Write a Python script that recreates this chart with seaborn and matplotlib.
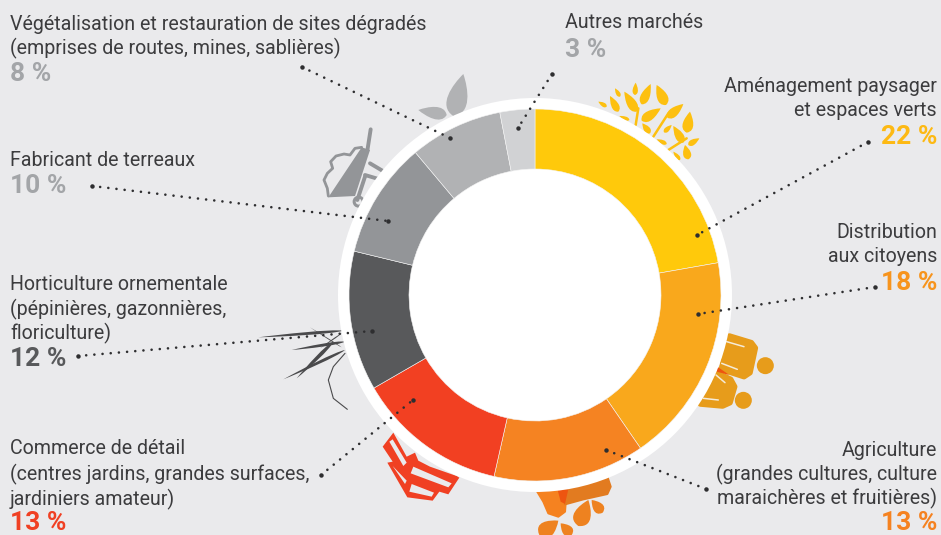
import matplotlib
matplotlib.use("Agg")
import matplotlib.pyplot as plt
from matplotlib.patches import Circle, PathPatch, Polygon
from matplotlib.path import Path
import numpy as np
import seaborn as sns

# data, clockwise from the top
categories = ["Aménagement paysager", "Distribution", "Agriculture", "Commerce de détail",
              "Horticulture ornementale", "Fabricant de terreaux", "Végétalisation", "Autres marchés"]
shares = [22, 18, 13, 13, 12, 10, 8, 3]
ring_colors = ["#FFC90B", "#F9A81C", "#F58322", "#F24022", "#58595B", "#939598", "#B1B2B4", "#D1D2D4"]
pct_colors = ["#FDB913", "#F7941D", "#F58220", "#F04023", "#58595B", "#A3A5A8", "#A3A5A8", "#A3A5A8"]

BG = "#EAEAEC"
TXT = "#3C3C3E"
W, H = 941, 535
CX, CY = 535, 295

sns.set_theme(style="white")
plt.rcParams["font.family"] = ["Roboto", "DejaVu Sans"]

fig = plt.figure(figsize=(W / 100, H / 100), dpi=100, facecolor=BG)
ax = fig.add_axes([0, 0, 1, 1], facecolor=BG)


def fy(y):
    return H - y


def zm(ox, oy, pts):
    # points measured on a 3x crop, back to picture pixels (y up)
    return [(ox + a / 3, fy(oy + b / 3)) for a, b in pts]


def poly(pts, color, z=1, lw=0.0):
    ax.add_patch(Polygon(pts, closed=True, fc=color, ec=color, lw=lw, joinstyle="round", zorder=z))


def leaf(base, tip, width, color, z=1):
    b, t = np.array(base, float), np.array(tip, float)
    d = t - b
    n = np.array([-d[1], d[0]]) / np.hypot(*d) * width
    verts = [b, b + 0.15 * d + n, b + 0.7 * d + 0.45 * n, t, b + 0.7 * d - 0.45 * n, b + 0.15 * d - n, b]
    codes = [Path.MOVETO, Path.CURVE4, Path.CURVE4, Path.CURVE4, Path.CURVE4, Path.CURVE4, Path.CURVE4]
    ax.add_patch(PathPatch(Path(verts, codes), fc=color, ec="none", zorder=z))


# --- icons behind the ring ---
# yellow tree
YL = "#FDC010"
for bx, by, tx, ty, wd in [(50, 110, 25, 95, 8), (85, 125, 60, 78, 14), (90, 80, 75, 55, 8), (135, 75, 137, 38, 10),
                           (155, 103, 182, 42, 17), (140, 125, 103, 65, 18), (228, 105, 200, 45, 20),
                           (155, 152, 212, 115, 18), (232, 143, 280, 102, 17), (290, 188, 300, 125, 20),
                           (180, 190, 157, 160, 12), (222, 187, 245, 165, 9), (280, 218, 250, 168, 16),
                           (295, 225, 328, 205, 11), (295, 268, 285, 225, 15), (270, 270, 250, 245, 8),
                           (230, 222, 200, 208, 8), (118, 150, 88, 138, 7)]:
    leaf(zm(590, 70, [(bx, by)])[0], zm(590, 70, [(tx, ty)])[0], wd / 2.1, YL)
for seg in ([(145, 115), (137, 165)], [(235, 130), (190, 200)], [(290, 205), (235, 240)]):
    p = zm(590, 70, seg)
    ax.plot(*zip(*p), color=YL, lw=1.8, solid_capstyle="round", zorder=1)

# grey sprout and wheelbarrow
leaf(zm(320, 60, [(400, 168)])[0], zm(320, 60, [(430, 42)])[0], 18, "#B1B2B4")
leaf(zm(320, 60, [(380, 165)])[0], zm(320, 60, [(295, 150)])[0], 11, "#B1B2B4")
GR = "#939598"
poly(zm(320, 60, [(25, 412), (105, 408), (150, 270), (125, 262)]), GR)
ax.plot(*zip(*zm(320, 60, [(25, 408), (22, 385), (12, 360), (22, 340), (38, 325), (32, 305), (48, 288), (72, 282),
                           (90, 285), (105, 265), (125, 262)])),
        color=GR, lw=2.0, solid_joinstyle="round", zorder=1)
for seg in ([(152, 208), (142, 272)], [(150, 310), (187, 332)], [(135, 345), (172, 356)], [(135, 350), (112, 420)]):
    ax.plot(*zip(*zm(320, 60, seg)), color=GR, lw=2.8, solid_capstyle="round", zorder=1)
wx, wy = zm(320, 60, [(116, 425)])[0]
ax.add_patch(Circle((wx, wy), 4.5, fc="none", ec=GR, lw=2.2, zorder=1))

# grass
GS = "#4A4A4C"
for base, tip, wd in [((280, 62), (25, 82), 4), ((285, 95), (125, 120), 4), ((285, 120), (100, 208), 4),
                      ((250, 95), (140, 205), 5), ((275, 112), (180, 52), 1.2), ((275, 70), (210, 115), 1.5)]:
    leaf(zm(250, 310, [base])[0], zm(250, 310, [tip])[0], wd / 1.5, GS)
ax.plot(*zip(*zm(250, 310, [(285, 130), (250, 170), (235, 210), (250, 265), (292, 298)])), color=GS, lw=0.8, zorder=1)

# red cart
RD = "#F04023"
poly(zm(250, 310, [(430, 368), (398, 410), (428, 455), (412, 458), (472, 562), (548, 572), (568, 545), (595, 553),
                   (628, 503), (620, 498), (540, 470), (505, 452), (495, 428), (470, 440)]), RD)
for hole in ([(418, 395), (428, 388), (470, 458), (460, 468)], [(490, 470), (605, 520), (595, 532), (482, 490)],
             [(428, 468), (470, 512), (465, 522)], [(485, 522), (552, 548), (545, 560), (478, 545)]):
    poly(zm(250, 310, hole), BG, z=1.1)

# orange plant
poly(zm(520, 320, [(50, 512), (140, 505), (135, 575), (115, 590), (85, 580), (70, 545)]), "#F58220", lw=1.5)
poly(zm(520, 320, [(135, 505), (262, 470), (272, 500), (262, 522), (190, 538), (135, 553)]), "#E27B20", lw=1.5)
poly(zm(520, 320, [(113, 510), (145, 508), (135, 552), (122, 545)]), "#EE5510", z=1.1)
for base, tip, wd in [((175, 618), (205, 540), 32), ((248, 578), (215, 540), 20), ((58, 645), (115, 602), 30),
                      ((155, 645), (122, 610), 20)]:
    leaf(zm(520, 320, [base])[0], zm(520, 320, [tip])[0], wd / 2.1, "#EE8220")

# seed bags
BG2 = "#E79C1B"
poly(zm(520, 320, [(628, 48), (694, 68), (706, 84), (690, 158), (672, 170), (604, 148)]), BG2, lw=4)
poly(zm(520, 320, [(594, 160), (632, 178), (644, 200), (630, 248), (608, 258), (541, 252)]), BG2, lw=4)
poly(zm(520, 320, [(592, 140), (628, 165), (590, 155)]), "#EE5510", z=1.1)
for center in [(736, 137), (670, 241)]:
    x, y = zm(520, 320, [center])[0]
    ax.add_patch(Circle((x, y), 8.5, fc=BG2, ec="none", zorder=1))
for seg in ([(620, 65), (672, 80)], [(605, 130), (652, 148)], [(588, 165), (615, 188)], [(550, 235), (595, 240)]):
    ax.plot(*zip(*zm(520, 320, seg)), color="#F5EBD8", lw=1.1, zorder=1.2)

# --- ring ---
ax.add_patch(Circle((CX, fy(CY)), 197, fc="white", ec="none", zorder=2))
wedges, _ = ax.pie(shares, colors=sns.color_palette(ring_colors), startangle=90, counterclock=False,
                   center=(CX, fy(CY)), radius=186, wedgeprops=dict(width=60, ec="#F4F4F4", lw=0.4))
for w in wedges:
    w.set_zorder(3)

ax.set_xlim(0, W)
ax.set_ylim(0, H)
ax.set_aspect("auto")
ax.axis("off")

# --- leader lines ---
leaders = [((868, 142), (697, 235)), ((875, 287), (698, 314)), ((706, 489), (606, 450)), ((321, 475), (413, 400)),
           ((78, 356), (372, 331)), ((92, 186), (388, 221)), ((302, 67), (450, 138)), ((552, 74), (518, 128))]
for (x0, y0), (x1, y1) in leaders:
    ax.plot([x0, x1], [fy(y0), fy(y1)], color="#2E2E30", lw=1.9, ls=(0, (0.01, 3.1)), dash_capstyle="round", zorder=4)
    ax.plot([x0, x1], [fy(y0), fy(y1)], ls="none", marker="o", ms=3.2, color="#2E2E30", mec="none", zorder=4)

# --- labels ---
labels = [
    (10, "left", [("Végétalisation et restauration de sites dégradés", 24), ("(emprises de routes, mines, sablières)", 48)], "8 %", 74, pct_colors[6]),
    (10, "left", [("Fabricant de terreaux", 160)], "10 %", 186, pct_colors[5]),
    (10, "left", [("Horticulture ornementale", 285), ("(pépinières, gazonnières,", 309), ("floriculture)", 333)], "12 %", 359, pct_colors[4]),
    (10, "left", [("Commerce de détail", 449), ("(centres jardins, grandes surfaces,", 474), ("jardiniers amateur)", 499)], "13 %", 523, pct_colors[3]),
    (565, "left", [("Autres marchés", 23)], "3 %", 50, pct_colors[7]),
    (937, "right", [("Aménagement paysager", 86), ("et espaces verts", 110)], "22 %", 137, pct_colors[0]),
    (937, "right", [("Distribution", 232), ("aux citoyens", 256)], "18 %", 283, pct_colors[1]),
    (937, "right", [("Agriculture", 450), ("(grandes cultures, culture", 474), ("maraichères et fruitières)", 498)], "13 %", 523, pct_colors[2]),
]
for x, ha, lines, pct, py, col in labels:
    for line, y in lines:
        ax.text(x, fy(y), line, ha=ha, va="center", fontsize=14.15, color=TXT, zorder=5)
    ax.text(x, fy(py), pct, ha=ha, va="center", fontsize=19, fontweight="bold", color=col, zorder=5)

fig.savefig("out.png", dpi=100, facecolor=BG)
